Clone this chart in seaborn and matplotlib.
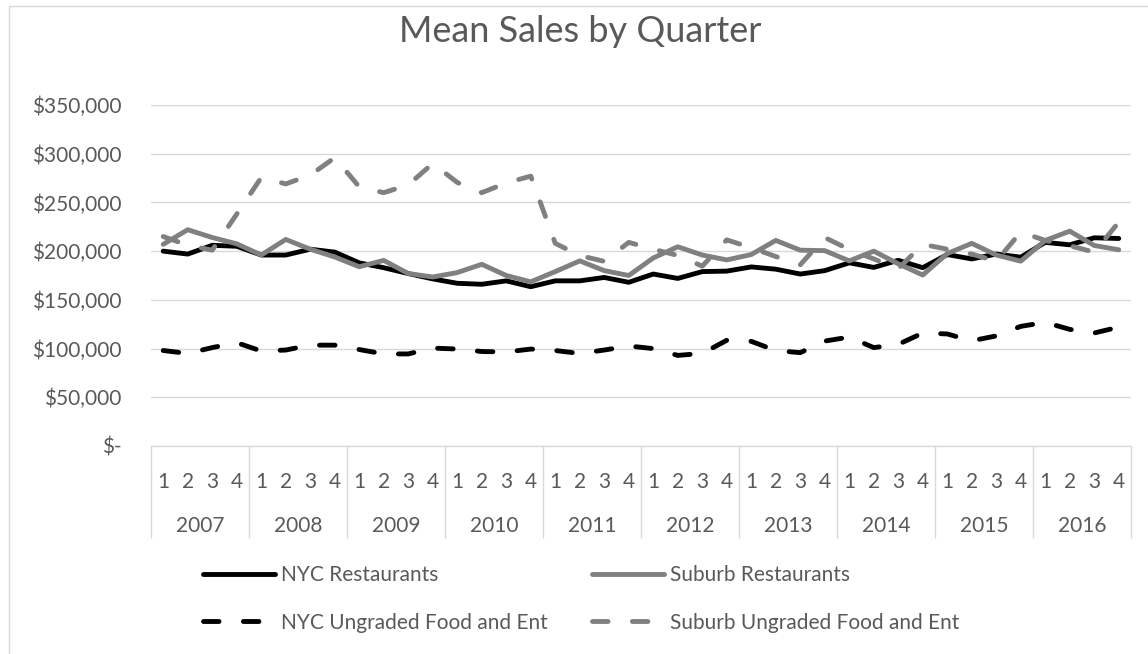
import pandas as pd
import seaborn as sns
import matplotlib.pyplot as plt
from matplotlib.ticker import FuncFormatter
from matplotlib.patches import Rectangle

years = [str(y) for y in range(2007, 2017)]
quarters = ['1', '2', '3', '4']

# mean sales per quarter, in thousands of dollars
nyc_rest = [200, 197, 206, 205, 196, 196, 202, 199,
            188, 183, 177, 171.5, 167, 166, 169.5, 163.5,
            169.5, 169.5, 173, 168, 176.5, 172, 179, 179.5,
            183.8, 181.5, 176.5, 180, 188, 183.3, 190.6, 183,
            196.5, 192, 197, 193.8, 209, 206.5, 213.7, 213]
sub_rest = [207, 222, 214, 207.5, 196, 212, 202, 194,
            184, 190.5, 177, 173.5, 178, 186.5, 175, 168.5,
            179, 190, 180, 175, 193, 204.5, 196, 191,
            196.5, 211, 201, 200.5, 190, 200, 187, 175.5,
            197.5, 208, 196, 189.7, 211, 220.5, 205.8, 201.4]
nyc_ung = [98, 95, 101, 106, 97.5, 98.5, 103.5, 103.5,
           99, 94.5, 94.5, 100.5, 99.5, 97, 96.5, 99.5,
           98, 95, 98.5, 102.6, 100, 93, 95, 108.5,
           107.4, 98, 95.8, 107.7, 111.8, 101, 104.3, 116,
           115, 108, 113, 122.8, 126.9, 119.7, 116, 122]
sub_ung = [215, 206, 201, 238, 275.5, 269, 278, 296,
           266, 260, 268, 290, 270.5, 260, 270, 277,
           208, 195.5, 189.5, 209, 202, 195.6, 184.6, 211.6,
           203.5, 194.5, 186, 214, 201.7, 192, 182, 207,
           202, 197, 189.7, 219.5, 211, 205.5, 199, 229.7]

names = ['NYC Restaurants', 'Suburb Restaurants',
         'NYC Ungraded Food and Ent', 'Suburb Ungraded Food and Ent']

rows = []
for name, vals in zip(names, [nyc_rest, sub_rest, nyc_ung, sub_ung]):
    for i, v in enumerate(vals):
        rows.append({'idx': i, 'sales': v * 1000, 'series': name})
df = pd.DataFrame(rows)

sns.set_theme(style='white')
plt.rcParams['font.family'] = ['Lato', 'DejaVu Sans']
txt = '#595959'
grid = '#D9D9D9'
fs = 15

fig = plt.figure(figsize=(11.48, 6.54), dpi=100)
ax = fig.add_axes([151 / 1148, 1 - 446 / 654, 980 / 1148, 341 / 654])

palette = {names[0]: 'black', names[1]: '#808080',
           names[2]: 'black', names[3]: '#808080'}
dashes = {names[0]: '', names[1]: '', names[2]: (3.2, 5.0), names[3]: (3.2, 5.0)}
sns.lineplot(data=df, x='idx', y='sales', hue='series', style='series',
             hue_order=names, style_order=names, palette=palette,
             dashes=dashes, linewidth=3.5, ax=ax,
             dash_capstyle='round', solid_joinstyle='round',
             dash_joinstyle='round')

leg = ax.get_legend()
handles = list(leg.legend_handles)
labels = [t.get_text() for t in leg.get_texts()]
leg.remove()
order = [0, 2, 1, 3]
handles = [handles[i] for i in order]
labels = [labels[i] for i in order]

ax.set_xlim(-0.5, 39.5)
ax.set_ylim(0, 350000)
ax.set_yticks(range(0, 350001, 50000))
ax.yaxis.set_major_formatter(FuncFormatter(lambda v, p: '$-' if v == 0 else f'${v:,.0f}'))
ax.yaxis.grid(True, color=grid, linewidth=1)
ax.set_axisbelow(True)
ax.set_xlabel('')
ax.set_ylabel('')
for s in ['left', 'right', 'top']:
    ax.spines[s].set_visible(False)
ax.spines['bottom'].set_color(grid)
ax.spines['bottom'].set_linewidth(1)

ax.set_xticks(range(40), labels=quarters * 10)
ax.set_xticks([-0.5 + 4 * k for k in range(11)], minor=True)
ax.tick_params(axis='x', which='major', length=0, pad=18.5, labelsize=fs, labelcolor=txt)
ax.tick_params(axis='x', which='minor', bottom=True, length=66, width=1,
               color=grid, direction='out')
ax.tick_params(axis='y', length=0, pad=21, labelsize=fs, labelcolor=txt)

sec = ax.secondary_xaxis('bottom')
sec.set_xticks([1.5 + 4 * k for k in range(10)], labels=years)
sec.tick_params(length=0, pad=50.5, labelsize=fs, labelcolor=txt)
sec.spines['bottom'].set_visible(False)

fig.suptitle('Mean Sales by Quarter', x=580 / 1148, y=1 - 32 / 654,
             va='center', fontsize=26, color=txt)

lg = fig.legend(handles, labels, ncol=2, loc='upper left',
                bbox_to_anchor=(203 / 1148, 1 - 565 / 654), frameon=False,
                fontsize=fs, handlelength=3.46, handletextpad=0.29,
                columnspacing=2.1, labelspacing=1.33, borderpad=0,
                borderaxespad=0, labelcolor=txt)
for ln in lg.get_lines():
    ln.set_linewidth(3.5)
    ln.set_dash_capstyle('round')
    ln.set_solid_capstyle('round')

fig.patches.append(Rectangle((9 / 1148, -0.5), 2, 0.5 + 1 - 6 / 654, fill=False,
                             edgecolor=grid, linewidth=1, transform=fig.transFigure))

fig.savefig('out.png', dpi=100)
